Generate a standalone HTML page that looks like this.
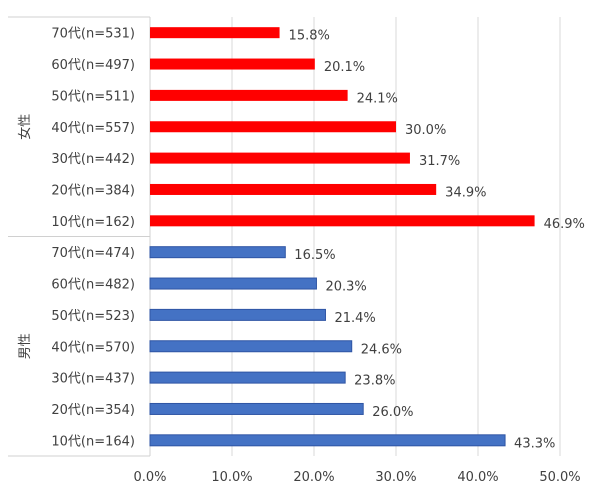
<!DOCTYPE html>
<html><head><meta charset="utf-8"><style>
body{margin:0;background:#fff;}
svg{display:block;font-family:"DejaVu Sans","Noto Sans CJK JP",sans-serif;}
</style></head><body>
<svg id="chart" width="600" height="494" viewBox="0 0 600 494" xmlns="http://www.w3.org/2000/svg"></svg>
<script>
const categories=["70代(n=531)","60代(n=497)","50代(n=511)","40代(n=557)","30代(n=442)","20代(n=384)","10代(n=162)","70代(n=474)","60代(n=482)","50代(n=523)","40代(n=570)","30代(n=437)","20代(n=354)","10代(n=164)"];
const values=[15.8,20.1,24.1,30.0,31.7,34.9,46.9,16.5,20.3,21.4,24.6,23.8,26.0,43.3];
const groups=["女性","男性"];
const tickValues=[0,10,20,30,40,50];
const tickLabels=["0.0%","10.0%","20.0%","30.0%","40.0%","50.0%"];

const svg=document.getElementById('chart');
const NS="http://www.w3.org/2000/svg";
const x0=150,x1=560,plotTop=17,plotBottom=456;
const xs=v=>x0+(v-0)/(50-0)*(x1-x0);
const rowH=(plotBottom-plotTop)/categories.length;
const ys=i=>plotTop+rowH*(i+0.5);
function mk(tag,attrs,parent){const e=document.createElementNS(NS,tag);for(const k in attrs)e.setAttribute(k,attrs[k]);(parent||svg).appendChild(e);return e;}

tickValues.forEach((t,i)=>{
  if(i>0){const g=mk('line',{x1:xs(t),x2:xs(t),y1:plotTop,y2:plotBottom,stroke:'#d9d9d9','stroke-width':1});
  
  }
  const tl=mk('text',{x:xs(t),y:481,'text-anchor':'middle','font-size':13,fill:'#404040'});
  tl.textContent=tickLabels[i];
  
  
});
[[x0,plotTop,x0,plotBottom],[8,plotTop,x0,plotTop],[8,(plotTop+plotBottom)/2,x0,(plotTop+plotBottom)/2],[8,plotBottom,x0,plotBottom]].forEach(c=>{
  const l=mk('line',{x1:c[0],y1:c[1],x2:c[2],y2:c[3],stroke:'#d0d0d0','stroke-width':1});
  
  
});
groups.forEach((g,gi)=>{
  const cy=plotTop+(plotBottom-plotTop)/4*(1+2*gi);
  const t=mk('text',{x:0,y:0,transform:`translate(29,${cy}) rotate(-90)`,'text-anchor':'middle','font-size':13,fill:'#404040'});
  t.textContent=g;
  
  
});
categories.forEach((c,i)=>{
  const y=ys(i);
  const female=i<7;
  const cl=mk('text',{x:135,y:y+5,'text-anchor':'end','font-size':13,fill:'#404040'});
  cl.textContent=c;
  
  
  const b=mk('rect',{x:x0,y:y-5.5,width:xs(values[i])-x0,height:11,fill:female?'#ff0000':'#4472c4',stroke:female?'none':'#2f55a4','stroke-width':1});
  
  
  const vl=mk('text',{x:xs(values[i])+9,y:y+7,'font-size':13,fill:'#404040'});
  vl.textContent=values[i].toFixed(1)+'%';
  
  
});
</script>
</body></html>
